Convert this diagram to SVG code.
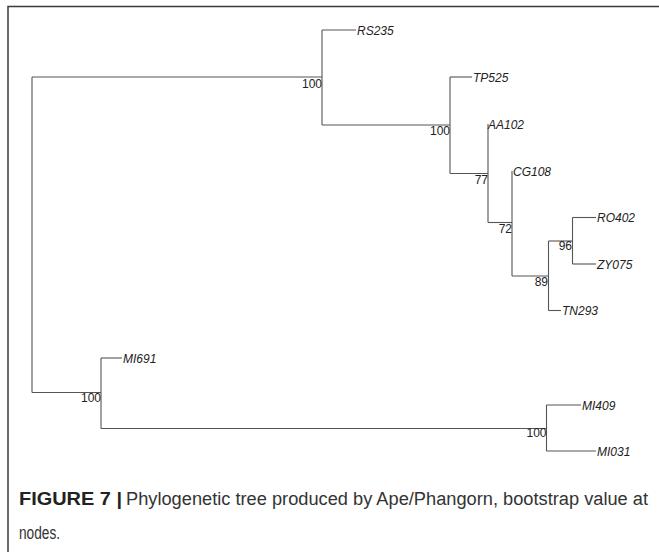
<svg xmlns="http://www.w3.org/2000/svg" width="659" height="552" viewBox="0 0 659 552">
<style>
.frame{fill:none;stroke:#3a3a3a;stroke-width:1.5}
.br{fill:none;stroke:#555;stroke-width:1.1}
.tip{font-family:"Liberation Sans",Arial,sans-serif;font-style:italic;font-size:12px;fill:#222}
.bs{font-family:"Liberation Sans",Arial,sans-serif;font-size:12px;fill:#222;text-anchor:end}
.cap{font-family:"Liberation Sans",Arial,sans-serif;font-size:18px;fill:#333}
.capb{font-weight:bold;fill:#222}
</style>
<rect width="659" height="552" fill="#fff"/>
<path class="frame" d="M8,552 V6.5 H659"/>
<g id="connectors">
<path class="br" d="M32,77 V392.5"/>
<path class="br" d="M32,77 H322"/>
<path class="br" d="M322,30 V125"/>
<path class="br" d="M322,30 H356"/>
<path class="br" d="M322,125 H450"/>
<path class="br" d="M450,77 V173.5"/>
<path class="br" d="M450,77 H472"/>
<path class="br" d="M450,173.5 H488"/>
<path class="br" d="M488,124 V222.5"/>
<path class="br" d="M488,222.5 H512"/>
<path class="br" d="M512,171 V276"/>
<path class="br" d="M512,276 H548.5"/>
<path class="br" d="M548.5,241 V310.5"/>
<path class="br" d="M548.5,310.5 H561"/>
<path class="br" d="M548.5,241 H572.5"/>
<path class="br" d="M572.5,217.5 V264"/>
<path class="br" d="M572.5,217.5 H596"/>
<path class="br" d="M572.5,264 H596"/>
<path class="br" d="M32,392.5 H101"/>
<path class="br" d="M101,358 V428.5"/>
<path class="br" d="M101,358 H122"/>
<path class="br" d="M101,428.5 H546.5"/>
<path class="br" d="M546.5,405 V451"/>
<path class="br" d="M546.5,405 H581"/>
<path class="br" d="M546.5,451 H596"/>
</g>
<g id="tip-RS235"><text class="tip" x="357" y="34.5">RS235</text></g>
<g id="tip-TP525"><text class="tip" x="473" y="81.5">TP525</text></g>
<g id="tip-AA102"><text class="tip" x="488" y="128.5">AA102</text></g>
<g id="tip-CG108"><text class="tip" x="513" y="175.5">CG108</text></g>
<g id="tip-RO402"><text class="tip" x="597" y="222">RO402</text></g>
<g id="tip-ZY075"><text class="tip" x="597" y="268.5">ZY075</text></g>
<g id="tip-TN293"><text class="tip" x="562" y="315">TN293</text></g>
<g id="tip-MI691"><text class="tip" x="123" y="362.5">MI691</text></g>
<g id="tip-MI409"><text class="tip" x="582" y="409.5">MI409</text></g>
<g id="tip-MI031"><text class="tip" x="597" y="455.5">MI031</text></g>
<g id="node-labels">
<text class="bs" x="322" y="87.5">100</text>
<text class="bs" x="450" y="135">100</text>
<text class="bs" x="488" y="183.5">77</text>
<text class="bs" x="512" y="232.5">72</text>
<text class="bs" x="572" y="250">96</text>
<text class="bs" x="548" y="286">89</text>
<text class="bs" x="101" y="402">100</text>
<text class="bs" x="546.5" y="437">100</text>
</g>
<g id="caption">
<text class="cap capb" x="19" y="505" textLength="103" lengthAdjust="spacingAndGlyphs">FIGURE 7 |</text>
<text class="cap" x="126" y="505" textLength="522" lengthAdjust="spacingAndGlyphs">Phylogenetic tree produced by Ape/Phangorn, bootstrap value at</text>
<text class="cap" x="19" y="538.5" textLength="41" lengthAdjust="spacingAndGlyphs">nodes.</text>
</g>
</svg>
